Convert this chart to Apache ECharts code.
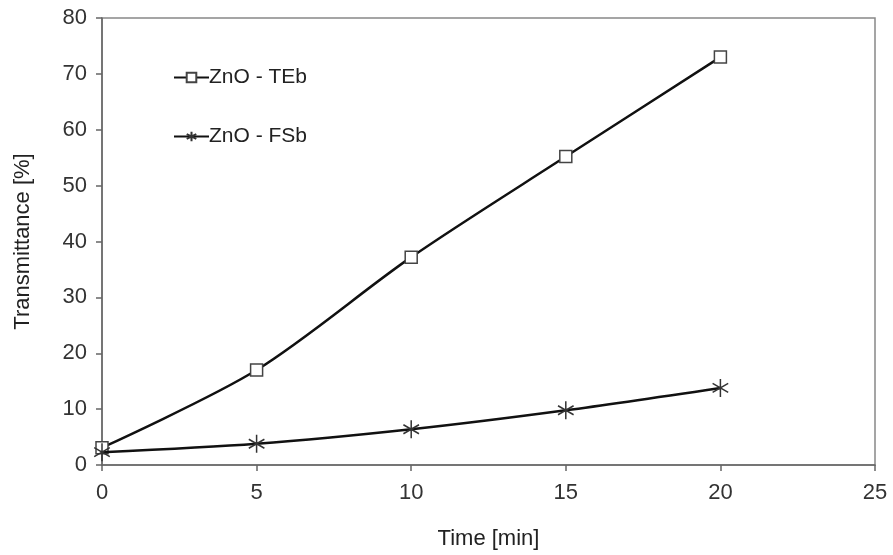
<!DOCTYPE html>
<html>
<head>
<meta charset="utf-8">
<script src="https://cdn.jsdelivr.net/npm/echarts@6/dist/echarts.min.js"></script>
<style>
  html, body { margin: 0; padding: 0; background: #fff; }
  #main { width: 893px; height: 555px; }
</style>
</head>
<body>
<div id="main"></div>
<script>
// 数据
var times = [0, 5, 10, 15, 20];
var tebValues = [3.1, 17, 37.2, 55.2, 73];
var fsbValues = [2.3, 3.8, 6.4, 9.8, 13.8];
var seriesNames = ['ZnO - TEb', 'ZnO - FSb'];

function toPairs(xs, ys) {
    var out = [];
    for (var i = 0; i < xs.length; i++) {
        out.push([xs[i], ys[i]]);
    }
    return out;
}

// 星号标记
var starPath = 'path://M0,-10L0,10M-8.66,-5L8.66,5M-8.66,5L8.66,-5';

var chart = echarts.init(document.getElementById('main'));
var option = {
    backgroundColor: '#fff',
    textStyle: { fontFamily: 'Liberation Sans, Arial, sans-serif' },
    animation: false,
    grid: {
        left: 102,
        right: 18,
        top: 18,
        bottom: 88,
        show: true,
        borderColor: '#888',
        borderWidth: 1.5
    },
    legend: {
        orient: 'vertical',
        left: 168,
        top: 62,
        itemWidth: 35,
        itemHeight: 12,
        itemGap: 38,
        textStyle: { fontSize: 21, color: '#222', padding: [0, 0, 0, -5] },
        data: seriesNames
    },
    xAxis: {
        type: 'value',
        min: 0,
        max: 25,
        interval: 5,
        name: 'Time [min]',
        nameLocation: 'middle',
        nameGap: 63,
        nameTextStyle: { fontSize: 22, color: '#222' },
        axisLine: { lineStyle: { color: '#666', width: 1.5 } },
        axisTick: { show: true, length: 6, lineStyle: { color: '#666', width: 1.5 } },
        axisLabel: { fontSize: 22, color: '#333', margin: 17 },
        splitLine: { show: false }
    },
    yAxis: {
        type: 'value',
        min: 0,
        max: 80,
        interval: 10,
        name: 'Transmittance [%]',
        nameLocation: 'middle',
        nameGap: 68,
        nameTextStyle: { fontSize: 22, color: '#222' },
        axisLine: { show: true, lineStyle: { color: '#666', width: 1.5 } },
        axisTick: { show: true, length: 6, lineStyle: { color: '#666', width: 1.5 } },
        axisLabel: { fontSize: 22, color: '#333', margin: 15 },
        splitLine: { show: false }
    },
    series: [
        {
            name: seriesNames[0],
            type: 'line',
            smooth: 0.3,
            data: toPairs(times, tebValues),
            symbol: 'rect',
            symbolSize: 12,
            lineStyle: { color: '#111', width: 2.5 },
            itemStyle: { color: '#fff', borderColor: '#444', borderWidth: 1.5 },
            z: 3
        },
        {
            name: seriesNames[1],
            type: 'line',
            smooth: 0.3,
            data: toPairs(times, fsbValues),
            symbol: starPath,
            symbolSize: 18,
            symbolKeepAspect: true,
            lineStyle: { color: '#111', width: 2.5 },
            itemStyle: { color: 'rgba(0,0,0,0)', borderColor: '#333', borderWidth: 1.5 },
            z: 4
        }
    ]
};
chart.setOption(option);
</script>
</body>
</html>
